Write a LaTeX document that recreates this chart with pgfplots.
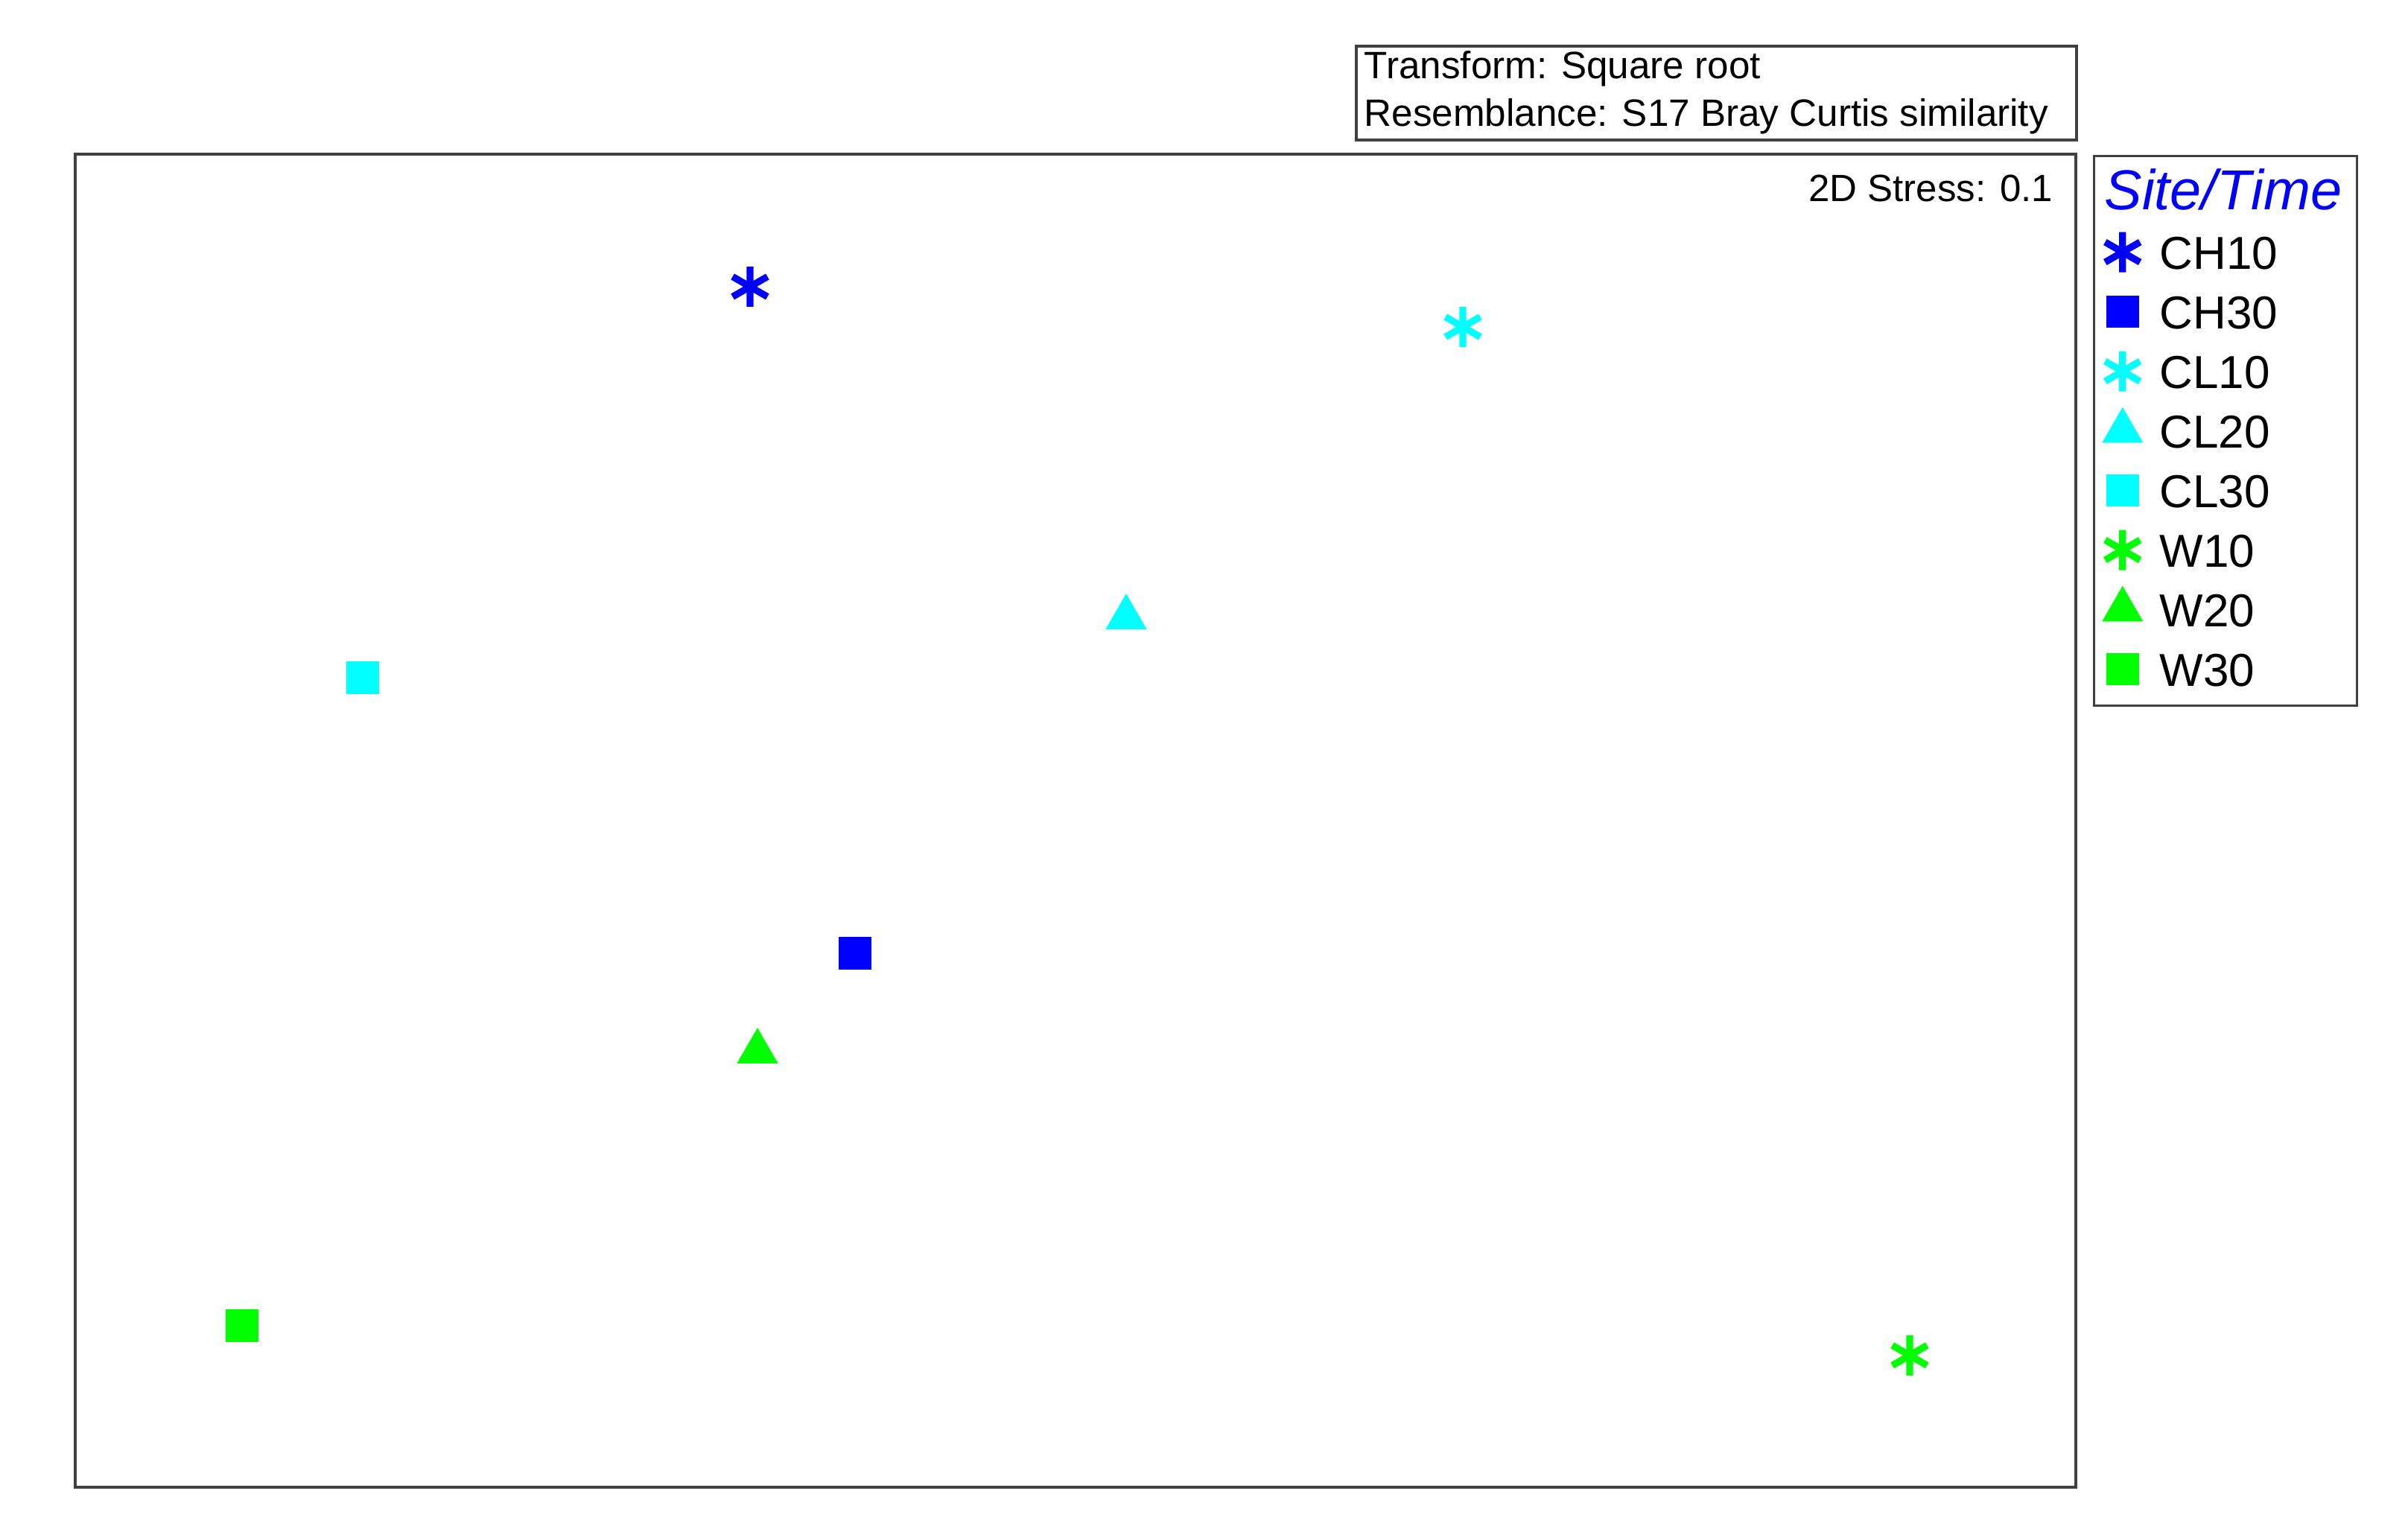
\documentclass[border=0pt]{standalone}
\usepackage{fontspec}
\setmainfont{Liberation Sans}
\usepackage{pgfplots}
\pgfplotsset{compat=1.18}
\definecolor{chblue}{RGB}{0,0,255}
\definecolor{clcyan}{RGB}{0,255,255}
\definecolor{wgreen}{RGB}{0,255,0}
\definecolor{framec}{RGB}{64,64,64}

\begin{document}
\begin{tikzpicture}
% one axis unit = one pixel of the 3233x2041 reference
\begin{axis}[
  x=0.25pt, y=0.25pt,
  xmin=101, xmax=2787, ymin=44, ymax=1834,
  xtick=\empty, ytick=\empty,
  axis line style={framec, line width=1pt},
  clip=false,
  legend cell align=left,
  legend style={at={(axis cs:2810,1833)}, anchor=north west,
    draw=framec, line width=0.8pt, inner xsep=1pt, inner ysep=2.25pt,
    column sep=5.75pt, font=\fontsize{15.5}{18}\selectfont,
    nodes={inner sep=0pt, text height=15.8pt, text depth=4.2pt}},
]
  \addlegendimage{empty legend}
  \addlegendentry{\hspace*{-18.5pt}\textcolor{chblue}{\fontsize{18.9}{20}\selectfont\itshape Site/Time}\hspace*{4pt}}

  \addplot[only marks, mark=asterisk, mark size=6.75pt,
    mark options={chblue, line width=2.3pt}] coordinates {(1007,1656)};
  \addlegendentry{CH10}
  \addplot[only marks, mark=square*, mark size=5.3pt,
    mark options={chblue, line width=0.2pt}] coordinates {(1148,761)};
  \addlegendentry{CH30}
  \addplot[only marks, mark=asterisk, mark size=6.75pt,
    mark options={clcyan, line width=2.3pt}] coordinates {(1964,1602)};
  \addlegendentry{CL10}
  \addplot[only marks, mark=triangle*, mark size=7.75pt,
    mark options={clcyan, line width=0.2pt}] coordinates {(1512,1212)};
  \addlegendentry{CL20}
  \addplot[only marks, mark=square*, mark size=5.3pt,
    mark options={clcyan, line width=0.2pt}] coordinates {(487,1131)};
  \addlegendentry{CL30}
  \addplot[only marks, mark=asterisk, mark size=6.75pt,
    mark options={wgreen, line width=2.3pt}] coordinates {(2564,221)};
  \addlegendentry{W10}
  \addplot[only marks, mark=triangle*, mark size=7.75pt,
    mark options={wgreen, line width=0.2pt}] coordinates {(1017,629)};
  \addlegendentry{W20}
  \addplot[only marks, mark=square*, mark size=5.3pt,
    mark options={wgreen, line width=0.2pt}] coordinates {(325,261)};
  \addlegendentry{W30}

  \node[anchor=base east, inner sep=0pt, font=\fontsize{12.75}{15}\selectfont]
    at (axis cs:2757,1770) {2D Stress: 0.1};

  % transform / resemblance box above the plot
  \draw[framec, line width=0.8pt] (axis cs:1821,1853) rectangle (axis cs:2788,1979);
  \node[anchor=base west, inner sep=0pt, font=\fontsize{12.8}{15}\selectfont]
    at (axis cs:1831,1935) {Transform: Square root};
  \node[anchor=base west, inner sep=0pt, font=\fontsize{12.8}{15}\selectfont]
    at (axis cs:1831,1871) {Resemblance: S17 Bray Curtis similarity};

  \path (axis cs:0,0) rectangle (axis cs:3233,2041);
\end{axis}
\end{tikzpicture}
\end{document}
